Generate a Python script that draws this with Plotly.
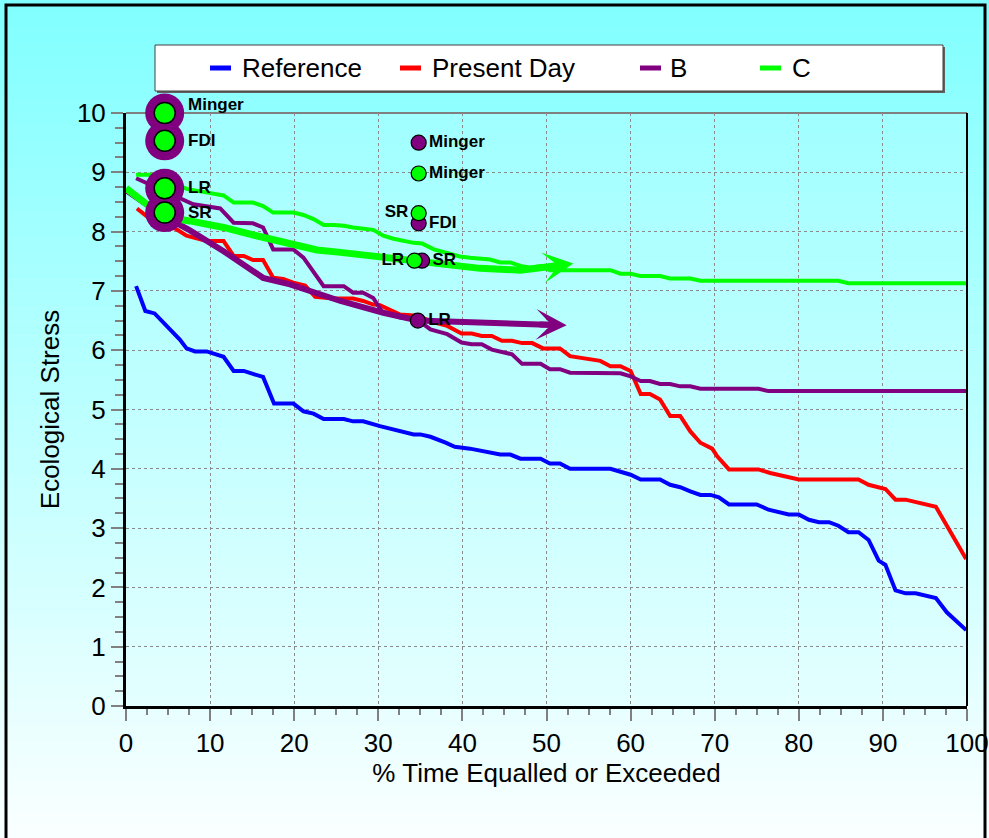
import plotly.graph_objects as go

# ---------------- data ----------------
ref_x = [1.2, 2.3, 3.4, 4.8, 6.4, 7.2, 8.2, 9.6, 10.2, 11.6, 12.8, 14.0, 15.1, 16.3, 17.6, 19.9, 21.1, 22.3,
         23.5, 25.9, 27.0, 28.2, 30.2, 31.8, 34.2, 35.0, 36.2, 38.0, 39.1, 40.9, 42.7, 44.5, 45.7, 46.9, 49.3,
         50.4, 51.6, 52.8, 57.6, 60.0, 61.2, 63.5, 64.7, 65.9, 67.1, 68.3, 69.5, 70.5, 71.7, 75.0, 76.4, 78.8,
         80.0, 81.2, 82.4, 83.6, 84.7, 85.9, 87.1, 88.3, 89.5, 90.3, 91.5, 92.7, 93.9, 96.3, 97.6, 98.6, 99.9]
ref_y = [7.08, 6.66, 6.62, 6.42, 6.18, 6.03, 5.98, 5.98, 5.95, 5.89, 5.65, 5.65, 5.60, 5.55, 5.10, 5.10, 4.97, 4.93,
         4.84, 4.84, 4.80, 4.80, 4.72, 4.66, 4.58, 4.58, 4.54, 4.44, 4.37, 4.34, 4.29, 4.24, 4.24, 4.17, 4.17,
         4.09, 4.09, 4.00, 4.00, 3.90, 3.82, 3.82, 3.73, 3.69, 3.62, 3.56, 3.56, 3.52, 3.40, 3.40, 3.31, 3.23,
         3.23, 3.14, 3.10, 3.10, 3.04, 2.93, 2.93, 2.80, 2.45, 2.38, 1.95, 1.90, 1.90, 1.82, 1.58, 1.44, 1.28]

pd_x = [1.3, 2.9, 6.0, 7.2, 9.6, 11.6, 12.8, 14.0, 15.1, 16.3, 17.5, 18.7, 19.9, 21.3, 22.5, 24.7, 27.0, 28.2,
        29.4, 30.2, 32.6, 34.6, 36.6, 38.2, 39.9, 41.1, 42.3, 43.5, 44.7, 45.9, 47.1, 48.3, 49.6, 51.6, 52.8,
        54.0, 55.2, 56.4, 57.6, 58.8, 60.0, 61.2, 62.3, 63.5, 64.7, 65.9, 67.1, 68.3, 69.7, 70.3, 71.7, 75.2,
        76.6, 80.0, 87.1, 88.3, 90.3, 91.5, 92.7, 96.3, 99.9]
pd_y = [8.39, 8.21, 8.04, 7.93, 7.84, 7.84, 7.59, 7.59, 7.52, 7.52, 7.22, 7.20, 7.14, 7.09, 6.90, 6.87, 6.87, 6.83,
        6.77, 6.76, 6.60, 6.58, 6.47, 6.41, 6.28, 6.28, 6.24, 6.24, 6.16, 6.16, 6.12, 6.12, 6.03, 6.03, 5.90,
        5.87, 5.85, 5.82, 5.73, 5.73, 5.65, 5.26, 5.26, 5.17, 4.89, 4.89, 4.63, 4.44, 4.34, 4.21, 3.99, 3.99,
        3.93, 3.82, 3.82, 3.73, 3.66, 3.48, 3.48, 3.36, 2.48]

b_x = [1.2, 4.0, 6.8, 8.0, 11.2, 12.8, 15.1, 16.3, 17.5, 19.9, 21.1, 23.5, 25.9, 27.0, 28.2, 29.4, 30.4, 32.6,
       34.6, 36.2, 38.2, 39.9, 41.1, 42.3, 43.5, 45.9, 47.1, 49.3, 50.4, 51.6, 52.8, 58.8, 60.0, 61.2, 62.3,
       63.5, 64.7, 65.9, 67.1, 68.3, 75.2, 76.4, 99.9]
b_y = [8.90, 8.72, 8.55, 8.46, 8.39, 8.15, 8.14, 8.07, 7.70, 7.70, 7.56, 7.08, 7.08, 6.97, 6.97, 6.88, 6.66, 6.55,
       6.52, 6.35, 6.27, 6.13, 6.10, 6.10, 6.01, 5.93, 5.77, 5.77, 5.68, 5.68, 5.62, 5.61, 5.56, 5.48, 5.48,
       5.43, 5.43, 5.39, 5.39, 5.35, 5.35, 5.31, 5.31]

c_x = [1.2, 4.0, 6.0, 7.2, 9.2, 11.6, 12.8, 15.1, 16.3, 17.5, 19.9, 21.1, 22.3, 23.5, 24.7, 25.9, 27.0, 28.2,
       29.4, 30.6, 31.8, 34.2, 35.2, 36.6, 37.8, 39.7, 40.9, 43.3, 44.5, 45.7, 46.9, 48.1, 49.3, 50.4, 57.6,
       58.8, 60.0, 61.2, 63.5, 64.7, 67.1, 68.3, 84.7, 85.9, 99.9]
c_y = [8.96, 8.96, 8.80, 8.72, 8.67, 8.61, 8.49, 8.49, 8.43, 8.32, 8.32, 8.28, 8.21, 8.11, 8.11, 8.10, 8.07, 8.05,
       8.03, 7.93, 7.88, 7.81, 7.80, 7.70, 7.65, 7.58, 7.56, 7.53, 7.48, 7.48, 7.42, 7.39, 7.42, 7.35, 7.35,
       7.29, 7.29, 7.25, 7.25, 7.21, 7.21, 7.17, 7.17, 7.13, 7.13]

# trajectories (thick lines); the last point is the arrow tip
bt_x = [0.0, 4.4, 7.6, 11.6, 16.3, 19.5, 25.5, 30.6, 34.7, 49.0, 52.4]
bt_y = [8.70, 8.27, 8.02, 7.67, 7.22, 7.11, 6.83, 6.63, 6.50, 6.435, 6.42]

ct_x = [0.0, 4.4, 7.6, 11.6, 15.5, 19.5, 22.7, 25.5, 29.4, 34.3, 42.1, 46.9, 50.0, 53.2]
ct_y = [8.73, 8.25, 8.18, 8.07, 7.93, 7.79, 7.69, 7.65, 7.58, 7.50, 7.38, 7.35, 7.40, 7.46]

# site markers
big_x = [4.6, 4.6, 4.6, 4.6]
big_y = [10.0, 9.53, 8.73, 8.32]
big_labels = ["Minger", "FDI", "LR", "SR"]

bm_x = [34.8, 34.8, 35.2, 34.7]
bm_y = [9.50, 8.14, 7.51, 6.50]
bm_labels = ["Minger", "FDI", "SR", "LR"]

cm_right_x = [34.8]
cm_right_y = [8.98]
cm_right_labels = ["Minger"]
cm_left_x = [34.8, 34.3]
cm_left_y = [8.31, 7.51]
cm_left_labels = ["SR", "LR"]

legend_names = ["Reference", "Present Day", "B", "C"]

# ---------------- styling ----------------
BLUE, RED, PURPLE, GREEN = "#0000FF", "#FF0000", "#800080", "#00FF00"
FONT = "Liberation Sans, Arial, Helvetica, sans-serif"
FS = 26

L, R, T, B = 126, 967, 113, 706
W, H = R - L, B - T


def pxx(x):
    return (x - L) / W


def pxy(y):
    return (B - y) / H


fig = go.Figure()

for xs, ys, col, nm in [(ref_x, ref_y, BLUE, legend_names[0]), (pd_x, pd_y, RED, legend_names[1]),
                        (b_x, b_y, PURPLE, legend_names[2]), (c_x, c_y, GREEN, legend_names[3])]:
    fig.add_trace(go.Scatter(x=xs, y=ys, mode="lines", name=nm, line=dict(color=col, width=4),
                             showlegend=False, hoverinfo="skip"))


def shaft(xs, ys, frac=0.6):
    # shaft runs along the trajectory and partway into the final (arrow) segment
    xe = xs[-2] + frac * (xs[-1] - xs[-2])
    ye = ys[-2] + frac * (ys[-1] - ys[-2])
    return xs[:-1] + [xe], ys[:-1] + [ye]


sx, sy = shaft(bt_x, bt_y)
fig.add_trace(go.Scatter(x=sx, y=sy, mode="lines", line=dict(color=PURPLE, width=6),
                         showlegend=False, hoverinfo="skip"))
sx, sy = shaft(ct_x, ct_y)
fig.add_trace(go.Scatter(x=sx, y=sy, mode="lines", line=dict(color=GREEN, width=7),
                         showlegend=False, hoverinfo="skip"))

lab_font = dict(family=FONT, size=17, color="black", weight="bold")

fig.add_trace(go.Scatter(x=big_x, y=big_y, mode="markers",
                         marker=dict(size=39, color=PURPLE, line=dict(width=0)),
                         showlegend=False, hoverinfo="skip", cliponaxis=False))
fig.add_trace(go.Scatter(x=big_x, y=big_y, mode="markers",
                         marker=dict(size=21, color=GREEN, line=dict(width=1.5, color="black")),
                         showlegend=False, hoverinfo="skip", cliponaxis=False))

fig.add_trace(go.Scatter(x=bm_x, y=bm_y, mode="markers+text", text=bm_labels, textposition="middle right",
                         textfont=lab_font, marker=dict(size=15, color=PURPLE, line=dict(width=1.2, color="black")),
                         showlegend=False, hoverinfo="skip"))
fig.add_trace(go.Scatter(x=cm_right_x, y=cm_right_y, mode="markers+text", text=cm_right_labels,
                         textposition="middle right", textfont=lab_font,
                         marker=dict(size=15, color=GREEN, line=dict(width=1.2, color="black")),
                         showlegend=False, hoverinfo="skip"))
fig.add_trace(go.Scatter(x=cm_left_x, y=cm_left_y, mode="markers+text", text=cm_left_labels,
                         textposition="middle left", textfont=lab_font,
                         marker=dict(size=15, color=GREEN, line=dict(width=1.2, color="black")),
                         showlegend=False, hoverinfo="skip"))

annotations = []
# arrow heads at the end of trajectories
for xs, ys, col in [(bt_x, bt_y, PURPLE), (ct_x, ct_y, GREEN)]:
    annotations.append(dict(x=xs[-1], y=ys[-1], ax=xs[-2], ay=ys[-2], xref="x", yref="y", axref="x", ayref="y",
                            text="", showarrow=True, arrowhead=3, arrowsize=0.85, arrowwidth=6,
                            arrowcolor=col, standoff=0, startstandoff=0))

# labels of the large site markers
big_yshift = [9, 0, 1, 0]
for x, y, t, ys in zip(big_x, big_y, big_labels, big_yshift):
    annotations.append(dict(x=x, y=y, xref="x", yref="y", text=t, showarrow=False, xanchor="left",
                            yanchor="middle", xshift=21, yshift=ys, font=lab_font))

# ---------------- background gradients ----------------
shapes = []
NB = 60
for i in range(NB):
    y0p = i * 838 / NB
    y1p = (i + 1) * 838 / NB + 0.5
    v = int(round(128 + (250 - 128) * (i + 0.5) / NB))
    shapes.append(dict(type="rect", xref="paper", yref="paper", x0=pxx(0), x1=pxx(989),
                       y0=pxy(y1p), y1=pxy(y0p), fillcolor=f"rgb({v},255,255)", line=dict(width=0),
                       layer="below"))
for i in range(NB):
    y0p = T + i * H / NB
    y1p = T + (i + 1) * H / NB + 0.5
    v = int(round(160 + (228 - 160) * (i + 0.5) / NB))
    shapes.append(dict(type="rect", xref="paper", yref="paper", x0=0, x1=1,
                       y0=max(0, pxy(y1p)), y1=pxy(y0p), fillcolor=f"rgb({v},255,255)", line=dict(width=0),
                       layer="below"))

# plot frame extras (top grey below the data, right black)
shapes.append(dict(type="line", xref="paper", yref="paper", x0=0, x1=1, y0=1, y1=1,
                   line=dict(color="#808080", width=2), layer="below"))
shapes.append(dict(type="line", xref="paper", yref="paper", x0=1, x1=1, y0=0, y1=1,
                   line=dict(color="black", width=2)))

# outer frame
shapes.append(dict(type="rect", xref="paper", yref="paper", x0=pxx(6), x1=pxx(985), y0=pxy(845), y1=pxy(5),
                   line=dict(color="black", width=3), fillcolor="rgba(0,0,0,0)"))

# ---------------- manual legend ----------------
shapes.append(dict(type="rect", xref="paper", yref="paper", x0=pxx(157), x1=pxx(945), y0=pxy(93), y1=pxy(47),
                   line=dict(width=0), fillcolor="#606060"))
shapes.append(dict(type="rect", xref="paper", yref="paper", x0=pxx(155), x1=pxx(943), y0=pxy(91), y1=pxy(45),
                   line=dict(color="#404040", width=1), fillcolor="white"))
leg_pos = [(210, 240), (400, 430), (640, 668), (760, 790)]
for (lx, tx), col, nm in zip(leg_pos, [BLUE, RED, PURPLE, GREEN], legend_names):
    shapes.append(dict(type="line", xref="paper", yref="paper", x0=pxx(lx), x1=pxx(lx + 21),
                       y0=pxy(68), y1=pxy(68), line=dict(color=col, width=5)))
    annotations.append(dict(x=pxx(tx), y=pxy(68), xref="paper", yref="paper", text=nm, showarrow=False,
                            xanchor="left", yanchor="middle", font=dict(family=FONT, size=FS, color="black")))

fig.update_layout(
    width=989, height=838,
    margin=dict(l=L, r=989 - R, t=T, b=838 - B, autoexpand=False),
    paper_bgcolor="white", plot_bgcolor="rgba(0,0,0,0)",
    font=dict(family=FONT, size=FS, color="black"),
    shapes=shapes, annotations=annotations, showlegend=False,
    xaxis=dict(range=[0, 100], dtick=10, tick0=0, showgrid=True, gridcolor="#8a8a8a", griddash="dot",
               gridwidth=1, zeroline=False, showline=True, linecolor="black", linewidth=3,
               ticks="outside", ticklen=12, tickwidth=2, tickcolor="#808080",
               minor=dict(dtick=2.5, ticks="outside", ticklen=6, tickwidth=2, tickcolor="#808080", showgrid=False),
               tickfont=dict(size=FS), title=dict(text="% Time Equalled or Exceeded", font=dict(size=FS), standoff=6),
               automargin=False, fixedrange=True),
    yaxis=dict(range=[0, 10], dtick=1, tick0=0, showgrid=True, gridcolor="#8a8a8a", griddash="dot",
               gridwidth=1, zeroline=False, showline=True, linecolor="black", linewidth=3,
               ticks="outside", ticklen=12, tickwidth=2, tickcolor="#808080",
               minor=dict(dtick=0.25, ticks="outside", ticklen=8, tickwidth=2, tickcolor="#808080", showgrid=False),
               tickfont=dict(size=FS), title=dict(text="Ecological Stress", font=dict(size=FS), standoff=10),
               automargin=False, fixedrange=True),
)

fig.write_html("out.html")
